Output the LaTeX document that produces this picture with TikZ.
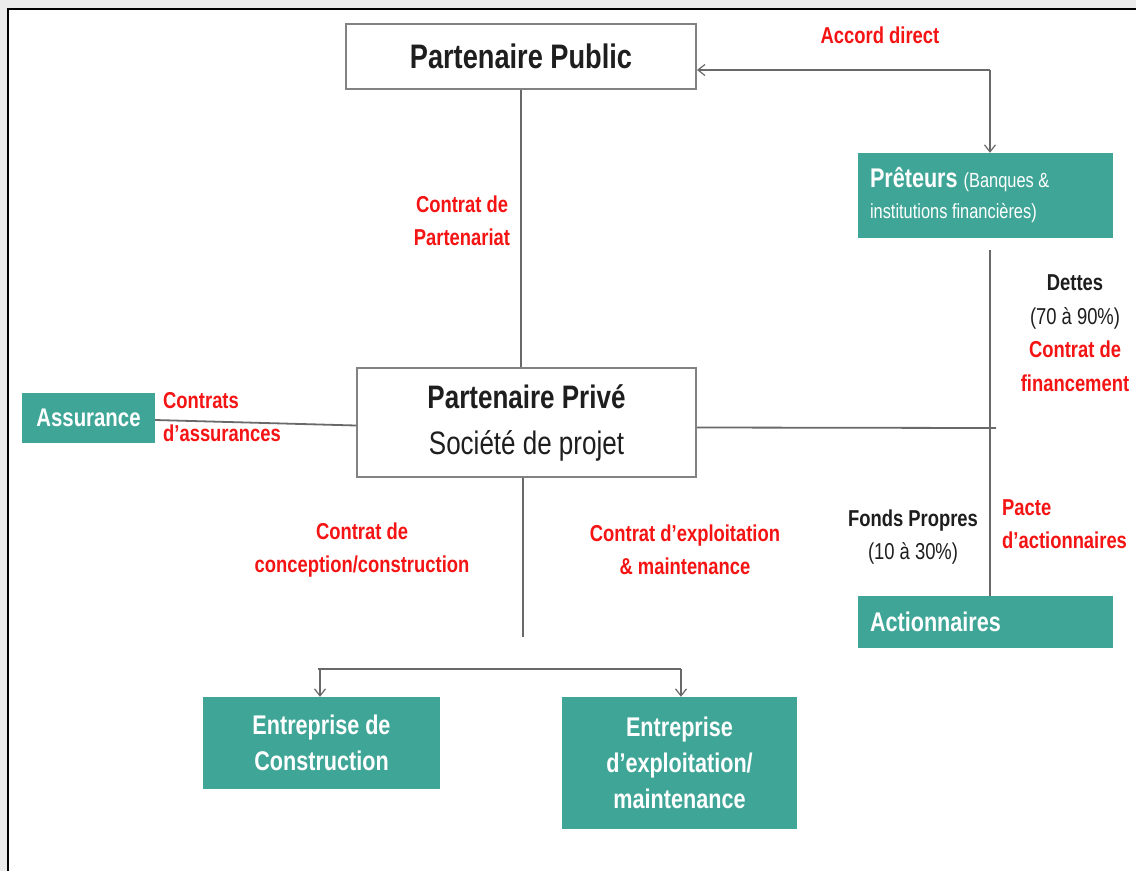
\documentclass[tikz,border=0pt]{standalone}
\usepackage{fontspec}
\setmainfont{Liberation Sans}[FakeStretch=0.8]
\usetikzlibrary{arrows.meta}
\definecolor{teal1}{RGB}{63,166,151}
\definecolor{lingray}{RGB}{105,105,105}
\definecolor{boxgray}{RGB}{130,130,130}
\definecolor{redlbl}{RGB}{245,20,20}
\definecolor{darktxt}{RGB}{30,30,30}
\newcommand\fBig{\fontsize{34}{46}\selectfont}
\newcommand\fMid{\fontsize{32.5}{46}\selectfont}
\newcommand\fBox{\fontsize{27}{36}\selectfont}
\newcommand\fLbl{\fontsize{23}{33.5}\selectfont}
\newcommand\fSmall{\fontsize{20.5}{31}\selectfont}
\begin{document}
\begin{tikzpicture}[x=1pt,y=-1pt,
  wbox/.style={draw=boxgray,line width=2pt,fill=white,inner sep=0pt,align=center,text=darktxt},
  tbox/.style={fill=teal1,inner sep=0pt,align=center,text=white,font=\fBox\bfseries},
  rlbl/.style={text=redlbl,font=\fLbl\bfseries,inner sep=0pt},
  klbl/.style={text=darktxt,font=\fLbl,inner sep=0pt},
  conn/.style={draw=lingray,line width=1.8pt},
  tip/.style={-{Straight Barb[length=7pt,width=11pt,line width=1.2pt]}}]
\useasboundingbox (0,0) rectangle (1136,871);
% frame
\fill[black!8] (0,0) rectangle (1136,871);
\fill[white] (8,9) rectangle (1136,871);
\draw[black,line width=2pt] (8,871) -- (8,9) -- (1136,9);

% nodes
\node[wbox,minimum width=350pt,minimum height=65pt,font=\fBig\bfseries] (pub) at (521,56.5) {Partenaire Public};
\node[wbox,minimum width=339pt,minimum height=109pt,font=\fMid] (prive) at (526.5,422.5) {\bfseries Partenaire Privé\\Société de projet};
\node[tbox,minimum width=255pt,minimum height=85pt,align=flush left,text width=231pt,font=\fontsize{27}{31}\selectfont\bfseries] (pret) at (985.5,195.5)
  {Prêteurs {\fSmall\mdseries (Banques \&}\\{\fSmall\mdseries institutions financières)}};
\node[tbox,minimum width=133pt,minimum height=50pt,font=\fontsize{25.5}{30}\selectfont\bfseries] (ass) at (88.5,418) {Assurance};
\node[tbox,minimum width=255pt,minimum height=52pt,align=flush left,text width=231pt] (act) at (985.5,622) {Actionnaires};
\node[tbox,minimum width=237pt,minimum height=92pt] (cons) at (321.5,743) {Entreprise de\\Construction};
\node[tbox,minimum width=235pt,minimum height=132pt] (expl) at (679.5,763) {Entreprise\\d'exploitation/\\maintenance};

% coordinates
\coordinate (ac) at (990,70);
\coordinate (jn) at (990,428);
\coordinate (dn) at (523,637);
\coordinate (bl) at (320,669);
\coordinate (br) at (681,669);

% connectors
\draw[conn] (pub.south) -- (pub.south |- prive.north);
\draw[conn,tip] (ac) -- (pub.east |- ac);
\draw[conn,tip] (ac) -- (ac |- pret.north);
\draw[conn] ([yshift=-2pt]ass.east) -- ([yshift=-3pt]prive.west);
\draw[conn] ([yshift=-5pt]prive.east) -- ([xshift=6pt]jn);
\draw[conn,shorten <=12pt] (pret.south -| jn) -- (jn |- act.north);
\draw[conn] (prive.south -| dn) -- (dn);
\draw[conn] ([xshift=-2pt]bl) -- (br);
\draw[conn,tip] (bl) -- (bl |- cons.north);
\draw[conn,tip] (br) -- (br |- expl.north);

% labels
\node[rlbl] (lacc) at (880,35) {Accord direct};
\node[rlbl,align=center] (lpart) at (462,221) {Contrat de\\Partenariat};
\node[rlbl,align=left,anchor=west] (lass) at (163,417) {Contrats\\d'assurances};
\node[align=center,inner sep=0pt,font=\fLbl] (ldet) at (1075,333)
  {{\bfseries\color{darktxt}Dettes}\\{\color{darktxt}(70 à 90\%)}\\{\bfseries\color{redlbl}Contrat de}\\{\bfseries\color{redlbl}financement}};
\node[klbl,align=center] (lfp) at (913,537) {\bfseries Fonds Propres\\(10 à 30\%)};
\node[rlbl,align=left,anchor=west] (lpac) at (1002,524) {Pacte\\d'actionnaires};
\node[rlbl,align=center] (lcc) at (362,550) {Contrat de\\conception/construction};
\node[rlbl,align=center] (lce) at (685,550) {Contrat d'exploitation\\\& maintenance};
\end{tikzpicture}
\end{document}
